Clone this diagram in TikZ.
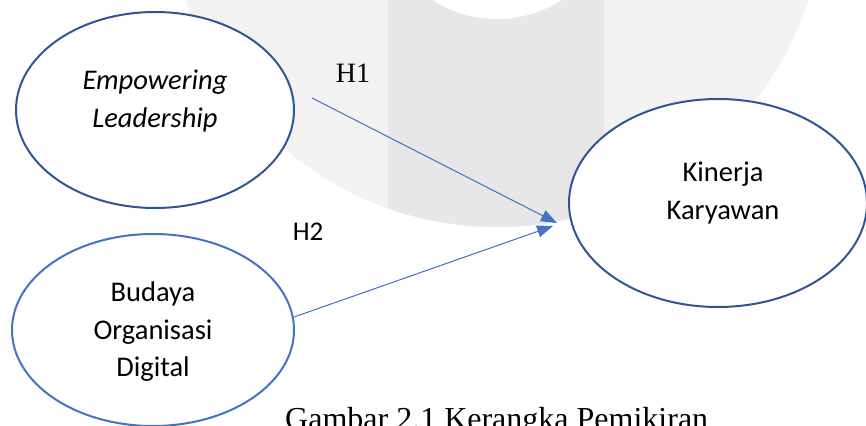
\documentclass[tikz,border=0pt]{standalone}
\usepackage{fontspec}
\setmainfont{Carlito}
\newfontfamily\tnr{Liberation Serif}
\usetikzlibrary{shapes.geometric,arrows.meta}
\definecolor{navy}{RGB}{47,85,151}
\definecolor{lblue}{RGB}{68,114,196}
\definecolor{wmA}{RGB}{242,242,242}
\definecolor{wmB}{RGB}{231,231,231}
\tikzset{
  ell/.style={ellipse, draw, line width=2pt, fill=white, inner sep=0pt},
  lbl/.style={align=center, inner sep=0pt, font=\fontsize{28.5}{37.5}\selectfont},
  hyp/.style={inner sep=0pt},
  arr/.style={draw=lblue, line width=1pt, -{Triangle[length=16pt,width=12pt]}, fill=lblue}
}
\begin{document}
\begin{tikzpicture}[x=1pt,y=-1pt]
\useasboundingbox (0,0) rectangle (866,425);
% watermark
\begin{scope}
  \clip (0,0) rectangle (866,425);
  \fill[wmA] (497,-100) circle (327pt);
  \begin{scope}
    \clip (497,-100) circle (327pt);
    \fill[wmB] (388,-110) rectangle (604,300);
  \end{scope}
  \fill[white] (497,-100) circle (119pt);
\end{scope}
% ellipses
\node[ell, draw=navy, minimum width=278pt, minimum height=196pt] (e1) at (155,110) {};
\node[ell, draw=lblue, minimum width=282pt, minimum height=192pt] (e2) at (153,330) {};
\node[ell, draw=navy, minimum width=298pt, minimum height=208pt] (e3) at (718,203) {};
% texts
\node[lbl] (t1) at (155,101) {\itshape Empowering\\\itshape Leadership};
\node[lbl] (t2) at (153,332) {Budaya\\Organisasi\\Digital};
\node[lbl] (t3) at (723,193) {Kinerja\\Karyawan};
\node[hyp, font=\tnr\fontsize{28}{30}\selectfont] (h1) at (353,73) {H1};
\node[hyp, font=\fontsize{27}{30}\selectfont] (h2) at (308,232) {H2};
\node[inner sep=0pt, anchor=base west, font=\tnr\fontsize{32}{36}\selectfont] (cap) at (285,429) {Gambar 2.1 Kerangka Pemikiran};
% connectors
\coordinate (s1) at (312,98);
\coordinate (s2) at (294,317);
\coordinate (p1) at (557,223);
\coordinate (p2) at (553,226);
\draw[arr] (s1) -- (p1);
\draw[arr] (s2) -- (p2);
\end{tikzpicture}
\end{document}
